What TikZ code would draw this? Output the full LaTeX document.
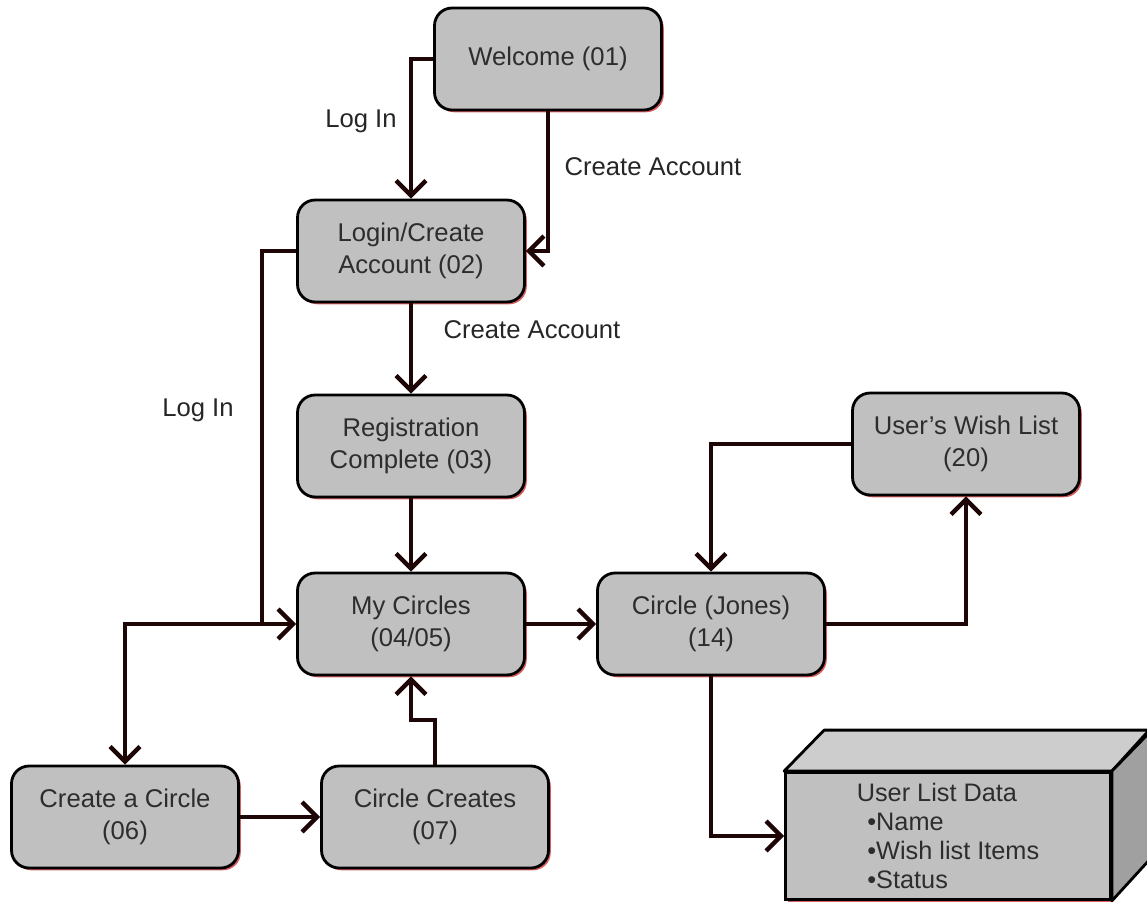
\documentclass[tikz,border=0pt]{standalone}
\usepackage{fontspec}
\setmainfont{Liberation Sans}
\usetikzlibrary{arrows.meta,shadows}
\definecolor{boxgray}{RGB}{192,192,192}
\definecolor{topgray}{RGB}{205,205,205}
\definecolor{sidegray}{RGB}{160,160,160}
\definecolor{wire}{RGB}{30,6,6}
\definecolor{edgered}{RGB}{215,95,95}
\definecolor{inktext}{RGB}{45,45,45}

\begin{document}
\begin{tikzpicture}[x=0.02cm,y=-0.02cm,
    screen/.style={draw=black,line width=1.6pt,fill=boxgray,rounded corners=10pt,
      minimum width=4.54cm,minimum height=2.04cm,align=center,text=inktext,
      font=\fontsize{14.6}{18}\selectfont,
      drop shadow={shadow xshift=1.3pt,shadow yshift=-1.3pt,fill=edgered,opacity=1}},
    store/.style={draw=black,line width=1.6pt,fill=boxgray,
      minimum width=6.5cm,minimum height=2.54cm,align=left,text=inktext,
      font=\fontsize{14.4}{16.5}\selectfont,
      drop shadow={shadow xshift=1.3pt,shadow yshift=-1.3pt,fill=edgered,opacity=1}},
    face/.style={draw=black,line width=1.6pt,line join=round},
    flow/.style={draw=wire,line width=2.5pt,-{Straight Barb[length=8.5pt,width=17pt]}},
    lbl/.style={font=\fontsize{14.6}{17}\selectfont,text=black!85}]

  \useasboundingbox (0,0) rectangle (1147,903);

  \node[screen] (s01) at (548,59) {Welcome (01)};
  \node[screen] (s02) at (411,251) {Login/Create\\Account (02)};
  \node[screen] (s03) at (411,446) {Registration\\Complete (03)};
  \node[screen] (s04) at (411,624) {My Circles\\(04/05)};
  \node[screen] (s06) at (125,817) {Create a Circle\\(06)};
  \node[screen] (s07) at (435,817) {Circle Creates\\(07)};
  \node[screen] (s14) at (711,624) {Circle (Jones)\\(14)};
  \node[screen] (s20) at (966,444) {User’s Wish List\\(20)};

  \node[store] (s21) at (948,836) {User List Data\\\hspace*{6pt}•Name\\\hspace*{6pt}•Wish list Items\\\hspace*{6pt}•Status};
  \draw[face,fill=topgray] (s21.north west) -- ++(40,-41) -- ++(325,0) -- (s21.north east) -- cycle;
  \draw[face,fill=sidegray] (s21.north east) -- ++(40,-41) -- ++(0,127) -- (s21.south east) -- cycle;

  \coordinate (fork) at (262,624);
  \coordinate (jog) at (411,720);

  \draw[flow] (s01.west) -| (s02.north);
  \draw[flow] (s01.south) |- (s02.east);
  \draw[flow] (s02) -- (s03);
  \draw[flow] (s02.west) -| (fork) -- (s04.west);
  \draw[flow] (fork) -| (s06.north);
  \draw[flow] (s03) -- (s04);
  \draw[flow] (s06) -- (s07);
  \draw[flow] (s07.north) |- (jog) -- (s04.south);
  \draw[flow] (s04) -- (s14);
  \draw[flow] (s14.east) -| (s20.south);
  \draw[flow] (s20.west) -| (s14.north);
  \draw[flow] (s14.south) |- (s21.west);

  \node[lbl] (l01) at (361,121) {Log In};
  \node[lbl] (l02) at (653,167) {Create Account};
  \node[lbl] (l03) at (532,330) {Create Account};
  \node[lbl] (l04) at (198,410) {Log In};

\end{tikzpicture}
\end{document}
